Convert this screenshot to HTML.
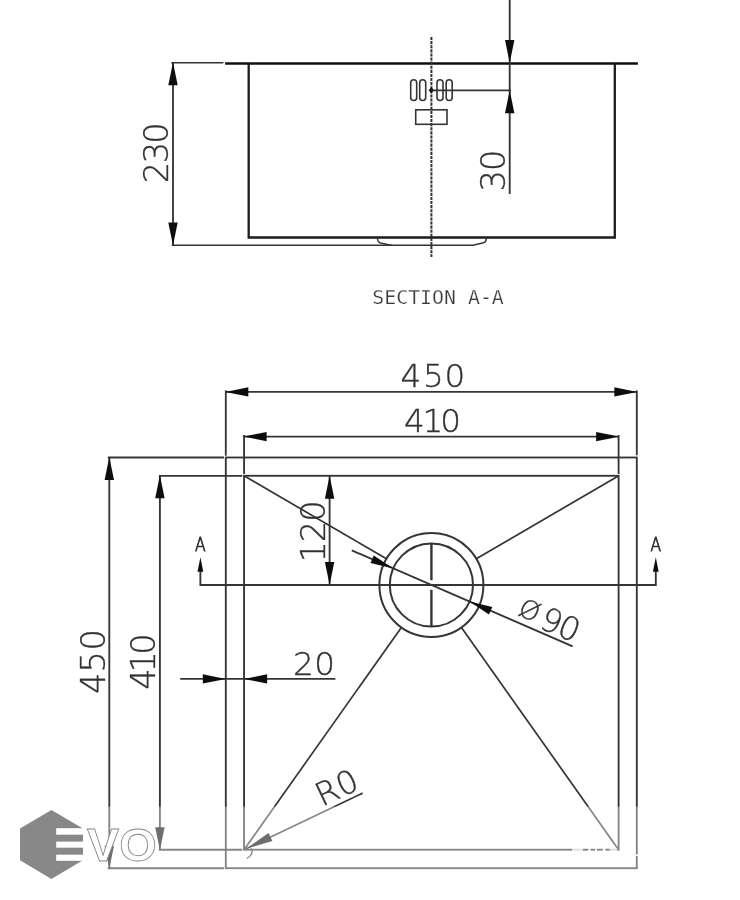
<!DOCTYPE html>
<html lang="en"><head><meta charset="utf-8"><title>Sink technical drawing</title>
<style>
html,body{margin:0;padding:0;background:#fff;}
body{width:740px;height:900px;overflow:hidden;font-family:"Liberation Sans",sans-serif;}
svg{display:block;}
.t{font-family:"DejaVu Sans Light","DejaVu Sans","Liberation Sans",sans-serif;font-weight:200;fill:#333;stroke:#333;stroke-width:0.35px;}
.m{font-family:"DejaVu Sans Mono","Liberation Mono",monospace;fill:#3a3a3a;stroke:#fff;stroke-width:0.25px;}
</style></head><body>
<svg width="740" height="900" viewBox="0 0 740 900">
<defs><filter id="soft" x="0" y="0" width="740" height="900" filterUnits="userSpaceOnUse"><feGaussianBlur stdDeviation="0.45"/></filter></defs>
<rect width="740" height="900" fill="#fff"/>
<g filter="url(#soft)">
<line x1="171.30" y1="62.70" x2="223.40" y2="62.70" stroke="#343434" stroke-width="1.4" />
<line x1="171.80" y1="245.20" x2="392.00" y2="245.20" stroke="#343434" stroke-width="1.5" />
<line x1="173.00" y1="62.70" x2="173.00" y2="245.20" stroke="#343434" stroke-width="1.85" />
<polygon points="173.0,62.2 177.7,85.2 168.3,85.2" fill="#111"/>
<polygon points="173.0,245.6 168.3,222.6 177.7,222.6" fill="#111"/>
<text x="-183.17 -163.20 -143.63" y="168.40" font-size="33.6" class="t" transform="rotate(-90)" >230</text>
<line x1="225.10" y1="63.50" x2="637.90" y2="63.50" stroke="#111" stroke-width="2.6" />
<polyline points="248.7,63.5 248.7,237.5 614.8,237.5 614.8,63.5" fill="none" stroke="#1e1e1e" stroke-width="2.3"/>
<path d="M377.4,238 C377.6,241 378.4,242.4 380.5,243 L391,245.2 L473,245.2 L483.5,242.8 C485.6,242 486.3,241 486.5,238" fill="none" stroke="#343434" stroke-width="1.5"/>
<line x1="431.40" y1="37.00" x2="431.40" y2="257.00" stroke="#343434" stroke-width="2.0" stroke-dasharray="3.1 1.0"/>
<rect x="410.7" y="79.8" width="6" height="20.7" rx="3" fill="none" stroke="#343434" stroke-width="1.6"/>
<rect x="419.7" y="79.8" width="6" height="20.7" rx="3" fill="none" stroke="#343434" stroke-width="1.6"/>
<rect x="437.0" y="79.8" width="6" height="20.7" rx="3" fill="none" stroke="#343434" stroke-width="1.6"/>
<rect x="446.2" y="79.8" width="6" height="20.7" rx="3" fill="none" stroke="#343434" stroke-width="1.6"/>
<polygon points="428.6,90.3 431.4,87.3 434.2,90.3 431.4,93.3" fill="#111"/>
<rect x="415.7" y="109.8" width="31.3" height="14.5" fill="none" stroke="#343434" stroke-width="1.6"/>
<line x1="431.40" y1="90.30" x2="511.00" y2="90.30" stroke="#343434" stroke-width="1.7" />
<line x1="509.70" y1="0.00" x2="509.70" y2="194.00" stroke="#343434" stroke-width="1.85" />
<polygon points="509.7,63.0 505.0,40.0 514.4,40.0" fill="#111"/>
<polygon points="509.7,90.3 514.4,113.3 505.0,113.3" fill="#111"/>
<text x="-191.60 -170.93" y="505.00" font-size="33.6" class="t" transform="rotate(-90)" >30</text>
<text x="372.3" y="303.9" font-size="19.87" class="m">SECTION A-A</text>
<line x1="225.80" y1="390.40" x2="225.80" y2="455.70" stroke="#343434" stroke-width="1.85" />
<line x1="636.80" y1="390.40" x2="636.80" y2="455.30" stroke="#343434" stroke-width="1.85" />
<line x1="244.05" y1="435.10" x2="244.05" y2="474.00" stroke="#343434" stroke-width="1.85" />
<line x1="618.60" y1="435.10" x2="618.60" y2="474.00" stroke="#343434" stroke-width="1.85" />
<line x1="107.80" y1="457.50" x2="224.00" y2="457.50" stroke="#343434" stroke-width="1.85" />
<line x1="107.80" y1="868.20" x2="224.00" y2="868.20" stroke="#343434" stroke-width="1.85" />
<line x1="158.90" y1="475.80" x2="242.25" y2="475.80" stroke="#343434" stroke-width="1.85" />
<line x1="158.90" y1="849.70" x2="242.25" y2="849.70" stroke="#343434" stroke-width="1.85" />
<rect x="225.8" y="457.5" width="411.00" height="410.70" fill="none" stroke="#343434" stroke-width="1.85"/>
<rect x="244.05" y="475.8" width="374.55" height="373.90" fill="none" stroke="#343434" stroke-width="1.85"/>
<line x1="225.80" y1="391.90" x2="636.80" y2="391.90" stroke="#343434" stroke-width="1.85" />
<polygon points="225.3,391.9 248.3,387.2 248.3,396.6" fill="#111"/>
<polygon points="637.3,391.9 614.3,396.6 614.3,387.2" fill="#111"/>
<line x1="244.05" y1="436.60" x2="618.60" y2="436.60" stroke="#343434" stroke-width="1.85" />
<polygon points="243.6,436.6 266.6,431.9 266.6,441.3" fill="#111"/>
<polygon points="619.1,436.6 596.1,441.3 596.1,431.9" fill="#111"/>
<text x="400.39 423.04 444.49" y="387.20" font-size="32.6" class="t" >450</text>
<text x="403.89 422.49 440.19" y="431.60" font-size="32.6" class="t" >410</text>
<line x1="109.30" y1="457.50" x2="109.30" y2="868.20" stroke="#343434" stroke-width="1.85" />
<polygon points="109.3,457.0 114.0,480.0 104.6,480.0" fill="#111"/>
<polygon points="109.3,868.7 104.6,845.7 114.0,845.7" fill="#111"/>
<line x1="159.90" y1="475.80" x2="159.90" y2="849.70" stroke="#343434" stroke-width="1.85" />
<polygon points="159.9,475.3 164.6,498.3 155.2,498.3" fill="#111"/>
<polygon points="159.9,850.2 155.2,827.2 164.6,827.2" fill="#111"/>
<text x="-694.06 -672.38 -650.53" y="104.90" font-size="33.6" class="t" transform="rotate(-90)" >450</text>
<text x="-689.66 -672.47 -654.63" y="155.10" font-size="33.6" class="t" transform="rotate(-90)" >410</text>
<polyline points="200.4,566 200.4,585.0 655.8,585.0 655.8,566" fill="none" stroke="#343434" stroke-width="1.85"/>
<polygon points="200.4,557.3 203.3,571.8 197.5,571.8" fill="#111"/>
<polygon points="655.8,557.3 658.7,571.8 652.9,571.8" fill="#111"/>
<text x="0" y="551.3" font-size="19.4" text-anchor="middle" class="t" style="stroke-width:0.9px" transform="translate(200.4 0) scale(0.8 1)">A</text>
<text x="0" y="551.3" font-size="19.4" text-anchor="middle" class="t" style="stroke-width:0.9px" transform="translate(655.9 0) scale(0.8 1)">A</text>
<line x1="329.60" y1="475.80" x2="329.60" y2="585.00" stroke="#343434" stroke-width="1.85" />
<polygon points="329.6,475.8 334.3,498.8 324.9,498.8" fill="#111"/>
<polygon points="329.6,585.0 324.9,562.0 334.3,562.0" fill="#111"/>
<text x="-562.57 -542.17 -521.73" y="325.00" font-size="33.6" class="t" transform="rotate(-90)" >120</text>
<circle cx="431.4" cy="585.0" r="52.0" fill="none" stroke="#343434" stroke-width="2"/>
<circle cx="431.4" cy="585.0" r="41.6" fill="none" stroke="#343434" stroke-width="2"/>
<line x1="431.40" y1="543.40" x2="431.40" y2="580.20" stroke="#343434" stroke-width="2.4" />
<line x1="431.40" y1="589.80" x2="431.40" y2="626.60" stroke="#343434" stroke-width="2.4" />
<line x1="244.05" y1="475.80" x2="386.47" y2="558.81" stroke="#343434" stroke-width="1.7" />
<line x1="618.60" y1="475.80" x2="476.32" y2="558.80" stroke="#343434" stroke-width="1.7" />
<line x1="244.05" y1="849.70" x2="401.36" y2="627.44" stroke="#343434" stroke-width="1.7" />
<line x1="618.60" y1="849.70" x2="461.43" y2="627.46" stroke="#343434" stroke-width="1.7" />
<line x1="351.80" y1="550.39" x2="572.63" y2="646.41" stroke="#343434" stroke-width="1.85" />
<polygon points="393.3,568.4 370.5,563.1 373.8,555.4" fill="#111"/>
<polygon points="469.5,601.6 492.3,606.9 489.0,614.6" fill="#111"/>
<text x="114.46 133.49" y="-3.80" font-size="32.6" class="t" transform="translate(431.4 585.0) rotate(23.5)" >90</text>
<text x="90.14" y="-7.00" font-size="26" class="t" transform="translate(431.4 585.0) rotate(23.5)" >Ø</text>
<line x1="180.20" y1="678.90" x2="335.40" y2="678.90" stroke="#343434" stroke-width="1.85" />
<polygon points="225.8,678.9 202.8,683.6 202.8,674.2" fill="#111"/>
<polygon points="244.1,678.9 267.1,674.2 267.1,683.6" fill="#111"/>
<text x="292.93 314.29" y="674.50" font-size="32.6" class="t" >20</text>
<line x1="244.05" y1="849.70" x2="362.65" y2="793.13" stroke="#343434" stroke-width="1.7" />
<polygon points="246.1,848.7 268.5,833.0 272.4,841.1" fill="#111"/>
<text x="88.70 111.41" y="-5.00" font-size="32.2" class="t" transform="translate(244.05 849.7) rotate(-25.5)" >R0</text>
<path d="M251,848.5 C253.5,852 252,855 247,858.5" fill="none" stroke="#343434" stroke-width="1.3"/>
</g>
<g>
<rect x="0" y="806.6" width="740" height="94" fill="#fff" fill-opacity="0.4"/>
<polygon points="51.4,810 83,828.6 83,860.3 51.4,879.1 20,860.3 20,828.6" fill="#888"/>
<rect x="56.2" y="828.2" width="27.2" height="6.5" fill="#fff"/>
<rect x="56.2" y="841.6" width="27.2" height="6.1" fill="#fff"/>
<rect x="56.2" y="854.7" width="27.2" height="6.1" fill="#fff"/>
<text x="87" y="861.2" font-size="46" font-weight="700" font-family="'Liberation Sans', sans-serif" fill="#fff" stroke="#858585" stroke-width="0.8" textLength="69.6" lengthAdjust="spacingAndGlyphs">VO</text>
<rect x="572" y="848.2" width="11" height="3.2" fill="#fff" fill-opacity="0.75"/>
<rect x="588.3" y="848.2" width="2.2" height="3.2" fill="#fff" fill-opacity="1"/>
<rect x="595.3" y="848.2" width="1.6" height="3.2" fill="#fff" fill-opacity="1"/>
<rect x="602.8" y="848.2" width="2.6" height="3.2" fill="#fff" fill-opacity="1"/>
<rect x="609.8" y="848.2" width="7.4" height="3.2" fill="#fff" fill-opacity="0.75"/>
<rect x="635" y="854.4" width="4" height="1.6" fill="#fff"/>
</g>
</svg>
</body></html>
